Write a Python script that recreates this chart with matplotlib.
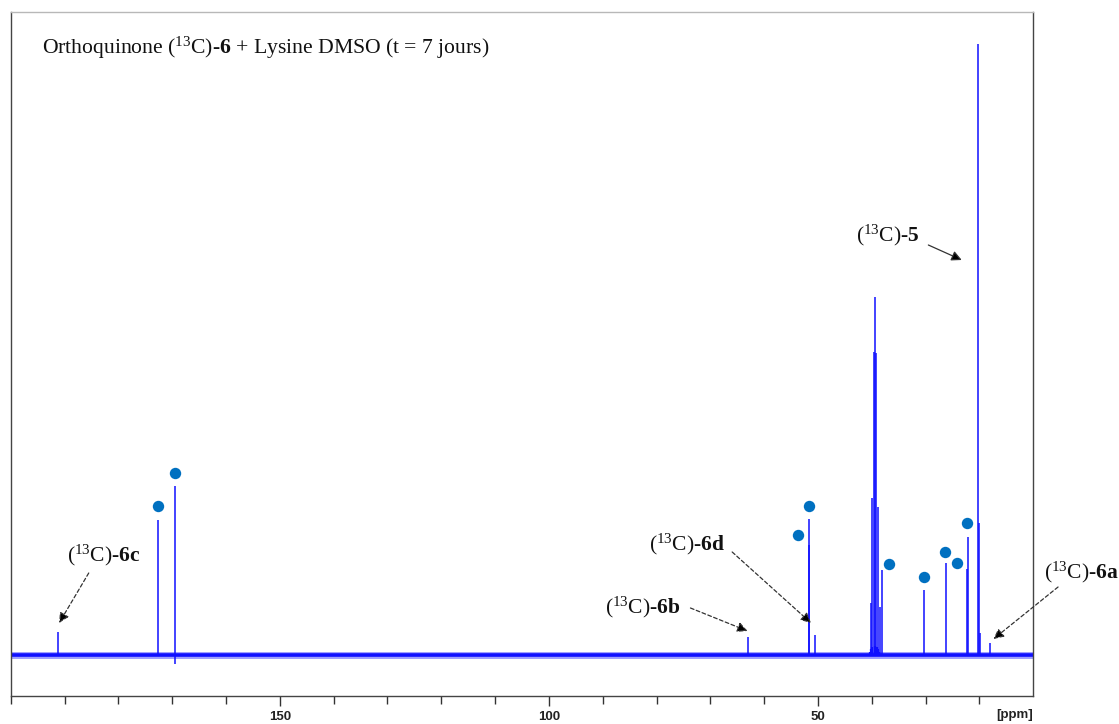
import matplotlib
matplotlib.use("Agg")
import matplotlib.pyplot as plt
import numpy as np

# ---------------- data (ppm, intensity above baseline) ----------------
peak_ppm = [191.2, 172.7, 169.55, 63.0, 51.72, 51.62, 50.5,
            40.16, 39.98, 39.68, 39.49, 39.18, 38.86, 38.56,
            38.2, 30.26, 26.2, 22.35, 22.1, 20.3, 20.05, 19.95, 18.1]
peak_height = [23, 135, 169, 18, 110, 136, 20,
               52, 157, 303, 358, 302, 148, 48,
               85, 65, 92, 86, 118, 611, 132, 22, 12]

neg_ppm = [169.55]
neg_height = [-9]

# broad solvent hump under the DMSO septet
hump_ppm = [40.4, 40.2, 39.9, 39.5, 39.1, 38.8, 38.6]
hump_height = [3, 6, 8, 9, 8, 6, 3]

dot_ppm = [172.7, 169.55, 51.6, 53.66, 36.76, 30.39, 26.42, 24.14, 22.33]
dot_height = [149, 182, 149, 120, 91, 78, 103, 92, 132]

major_ticks = [150, 100, 50]
major_labels = ["150", "100", "50"]
minor_ticks = [200, 190, 180, 170, 160, 140, 130, 120, 110, 90, 80, 70, 60, 40, 30, 20]

title = r"Orthoquinone ($^{13}$C)-$\mathbf{6}$ + Lysine DMSO (t = 7 jours)"

ann_labels = [r"($^{13}$C)-$\mathbf{6c}$", r"($^{13}$C)-$\mathbf{6b}$",
              r"($^{13}$C)-$\mathbf{6d}$", r"($^{13}$C)-$\mathbf{5}$",
              r"($^{13}$C)-$\mathbf{6a}$"]
ann_tip = [(191.0, 32), (63.1, 24), (51.3, 32), (23.3, 395), (17.4, 16)]
ann_text = [(182.7, 100), (82.6, 48), (74.3, 111), (37.1, 420), (1.1, 83)]
ann_dashed = [True, True, True, False, True]

# ---------------- style ----------------
plt.rcParams["font.family"] = ["Liberation Serif", "DejaVu Serif"]
plt.rcParams["mathtext.fontset"] = "custom"
plt.rcParams["mathtext.rm"] = "Liberation Serif"
plt.rcParams["mathtext.it"] = "Liberation Serif:italic"
plt.rcParams["mathtext.bf"] = "Liberation Serif:bold"

W, H = 1119, 724
fig = plt.figure(figsize=(W / 100, H / 100), dpi=100)
x0, x1 = 10.7, 1033.3
y_top, y_bot = 12, 696
ax = fig.add_axes([x0 / W, 1 - y_bot / H, (x1 - x0) / W, (y_bot - y_top) / H])

blue = "#1010ff"
# baseline (noise band)
ax.axhline(0, color=blue, lw=5.0, alpha=0.4, zorder=2)
ax.axhline(0, color=blue, lw=2.6, zorder=2)
ax.vlines(hump_ppm, 0, hump_height, color=blue, lw=1.6, zorder=2)
# peaks
ax.vlines(peak_ppm, 0, peak_height, color=blue, lw=1.1, zorder=3)
ax.vlines(neg_ppm, 0, neg_height, color=blue, lw=1.1, zorder=3)
# dots
ax.plot(dot_ppm, dot_height, "o", color="#0070c0", ms=8.2, mec="none", zorder=4)

ax.set_xlim(200, 10)
ax.set_ylim(-41, 643)

ax.set_xticks(major_ticks)
ax.set_xticklabels(major_labels, fontfamily="Liberation Sans", fontweight="bold",
                   fontsize=9.5, color="#222222")
ax.set_xticks(minor_ticks, minor=True)
ax.tick_params(axis="x", which="major", length=7.5, width=1.0, color="#333333", pad=3)
ax.tick_params(axis="x", which="minor", length=5.5, width=1.0, color="#333333")
ax.set_yticks([])

for s in ["left", "right", "bottom"]:
    ax.spines[s].set_color("#444444")
    ax.spines[s].set_linewidth(1.0)
ax.spines["top"].set_color("#b8b8b8")
ax.spines["top"].set_linewidth(1.0)

ax.text(1.0, -0.028, "[ppm]", transform=ax.transAxes, ha="right", va="center",
        fontfamily="Liberation Sans", fontweight="bold", fontsize=9.5, color="#222222")

ax.text(0.031, 0.947, title, transform=ax.transAxes, ha="left", va="center",
        fontsize=15.6, color="#111111")

for lab, txt in zip(ann_labels, ann_text):
    ax.text(txt[0], txt[1], lab, ha="center", va="center", fontsize=15.5,
            color="#111111", clip_on=False)

# arrows: start points slightly off the labels
arrow_start = [(185.5, 82), (73.7, 47), (65.95, 103), (29.5, 410), (5.4, 68)]
for (sx, sy), tip, dashed in zip(arrow_start, ann_tip, ann_dashed):
    ax.annotate("", xy=tip, xytext=(sx, sy), annotation_clip=False,
                arrowprops=dict(arrowstyle="-|>", color="#333333", lw=0.9,
                                linestyle=(0, (3, 2)) if dashed else "-",
                                mutation_scale=15, shrinkA=0, shrinkB=0,
                                fc="black"))

fig.savefig("out.png", dpi=100)
